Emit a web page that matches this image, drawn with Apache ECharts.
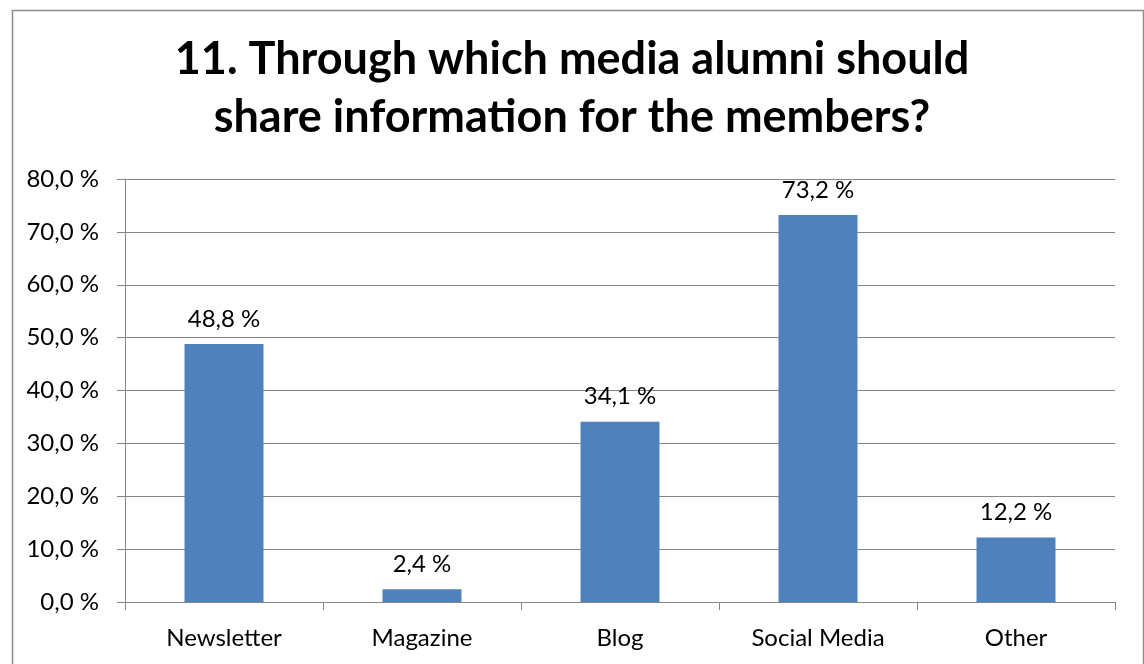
<!DOCTYPE html>
<html>
<head>
<meta charset="utf-8">
<script src="https://cdn.jsdelivr.net/npm/echarts@6/dist/echarts.min.js"></script>
<style>
  html, body { margin: 0; padding: 0; background: #fff; }
  #chart { width: 1144px; height: 664px; }
</style>
</head>
<body>
<div id="chart"></div>
<script>
// Survey question 11: preferred channels for sharing alumni information
const categories = ['Newsletter', 'Magazine', 'Blog', 'Social Media', 'Other'];
const shares = [48.8, 2.4, 34.1, 73.2, 12.2];
const axisMax = 80;
const axisStep = 10;

const fontFamily = 'Lato, "Open Sans", sans-serif';
const gridGray = '#868686';

// Percent with a decimal comma, e.g. "48,8 %"
function pct(v) {
  return Number(v).toFixed(1).replace('.', ',') + ' %';
}

const chart = echarts.init(document.getElementById('chart'), null, { renderer: 'canvas' });

chart.setOption({
  backgroundColor: '#ffffff',
  animation: false,
  title: {
    text: '11. Through which media alumni should\nshare information for the members?',
    left: 'center',
    top: 25,
    textStyle: {
      fontFamily: fontFamily,
      fontWeight: 'bold',
      fontSize: 45,
      lineHeight: 58,
      color: '#000'
    }
  },
  graphic: [{
    type: 'rect',
    left: 10,
    top: 8,
    shape: { width: 1131, height: 700 },
    style: { fill: 'none', stroke: '#8c8c8c', lineWidth: 1.5 },
    silent: true,
    z: -1
  }],
  grid: {
    left: 125,
    right: 29,
    top: 179,
    bottom: 62,
    containLabel: false
  },
  xAxis: {
    type: 'category',
    data: categories,
    boundaryGap: true,
    axisLine: { show: true, lineStyle: { color: gridGray, width: 1 } },
    axisTick: { show: true, alignWithLabel: false, length: 8, lineStyle: { color: gridGray } },
    axisLabel: {
      margin: 24,
      color: '#000',
      fontFamily: fontFamily,
      fontSize: 24
    }
  },
  yAxis: {
    type: 'value',
    min: 0,
    max: axisMax,
    interval: axisStep,
    axisLine: { show: true, lineStyle: { color: gridGray, width: 1 } },
    axisTick: { show: true, length: 8, lineStyle: { color: gridGray } },
    splitLine: { show: true, lineStyle: { color: gridGray, width: 1 } },
    axisLabel: {
      margin: 26,
      color: '#000',
      fontFamily: fontFamily,
      fontSize: 24,
      formatter: pct
    }
  },
  series: [{
    type: 'bar',
    data: shares,
    barWidth: 79,
    itemStyle: { color: '#4F81BD' },
    label: {
      show: true,
      position: 'top',
      distance: 13,
      color: '#000',
      fontFamily: fontFamily,
      fontSize: 24,
      formatter: p => pct(p.value)
    }
  }]
});
</script>
</body>
</html>
